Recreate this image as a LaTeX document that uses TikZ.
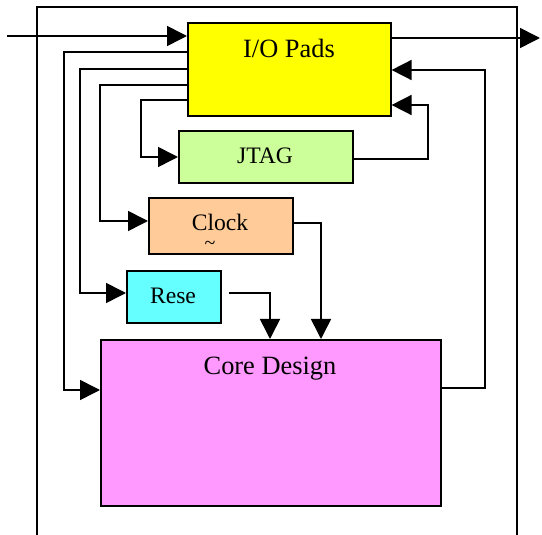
\documentclass[tikz,border=0pt]{standalone}
\usepackage{fontspec}
\setmainfont{Liberation Serif}
\usetikzlibrary{arrows.meta}
\tikzset{
  blk/.style={draw, line width=0.8pt, inner sep=0pt, anchor=north west},
  arr/.style={-{Triangle[length=10pt,width=10pt]}, line width=0.8pt},
  bigtxt/.style={font=\fontsize{13.2}{15}\selectfont, inner sep=0pt},
  smalltxt/.style={font=\fontsize{11.8}{14}\selectfont, inner sep=0pt},
}
\definecolor{padyellow}{HTML}{FFFF00}
\definecolor{jtaggreen}{HTML}{CCFF99}
\definecolor{clkpeach}{HTML}{FFCC99}
\definecolor{rstcyan}{HTML}{66FFFF}
\definecolor{coremag}{HTML}{FF99FF}
\begin{document}
\begin{tikzpicture}[x=0.5pt,y=-0.5pt]
\useasboundingbox (0,0) rectangle (542,535);
% outer frame
\draw[line width=0.8pt] (37,535) -- (37,7) -- (517,7) -- (517,535);
% blocks
\draw (187,22) node[blk, fill=padyellow, minimum width=101.5pt, minimum height=46.5pt] (io) {};
\draw (178,130) node[blk, fill=jtaggreen, minimum width=87pt, minimum height=26pt] (jtag) {};
\draw (148,197) node[blk, fill=clkpeach, minimum width=72pt, minimum height=28pt] (clk) {};
\draw (126,270) node[blk, fill=rstcyan, minimum width=47pt, minimum height=26pt] (rst) {};
\draw (100,339) node[blk, fill=coremag, minimum width=170pt, minimum height=83pt] (core) {};
% texts
\node[bigtxt] (iotxt) at (289,48) {I/O Pads};
\node[smalltxt] (jtagtxt) at (265,156) {JTAG};
\node[smalltxt] (clktxt) at (220,222) {Clock};
\node[font=\fontsize{10}{10}\selectfont, inner sep=0pt] (clktl) at (210,245) {\textasciitilde};
\node[smalltxt] (rsttxt) at (173,296) {Rese};
\node[bigtxt] (coretxt) at (270,369) {Core Design};
% pins in / out
\coordinate (pin) at (7,36);
\coordinate (pout) at (540,38);
\draw[arr] (pin) -- (io.west |- pin);
\draw[arr] (io.east |- pout) -- (pout);
% from the pads
\draw[arr] (io.west |- 0,52) -| (64,390) -- (core.west |- 0,390);
\draw[arr] (io.west |- 0,69) -| (80,293) -- (rst.west |- 0,293);
\draw[arr] (io.west |- 0,85) -| (100,221) -- (clk.west |- 0,221);
\draw[arr] (io.west |- 0,100) -| (141,157) -- (jtag.west |- 0,157);
% back to the pads
\draw[arr] (jtag.east |- 0,159) -| (428,105) -- (io.east |- 0,105);
\draw[arr] (core.east |- 0,388) -| (485,70) -- (io.east |- 0,70);
% into the core
\coordinate (rstout) at (229,293);
\draw[arr] (clk.east |- 0,223) -| (core.north -| 321,0);
\draw[arr] (rstout) -| (core.north -| 270,0);
\end{tikzpicture}
\end{document}
